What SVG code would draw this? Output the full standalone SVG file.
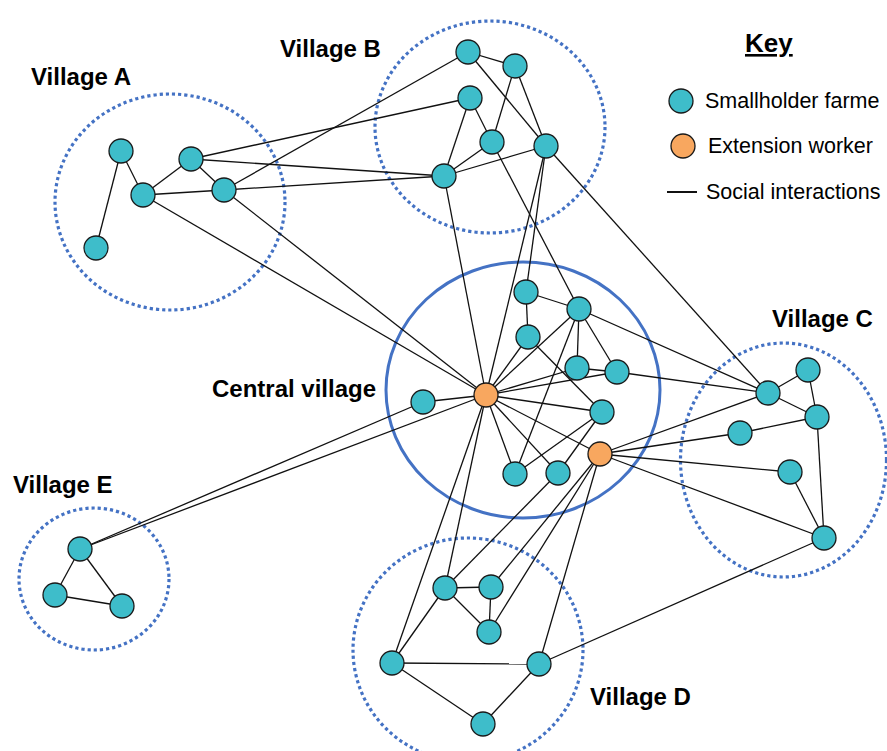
<svg xmlns="http://www.w3.org/2000/svg" width="887" height="751" viewBox="0 0 887 751">
<style>
.bg{fill:#fff}
.vil{fill:none;stroke:#4472C4;stroke-width:3.2;stroke-dasharray:3.2 3}
.cen{fill:none;stroke:#4472C4;stroke-width:3}
.e line{stroke:#111;stroke-width:1.3}
.f{fill:#3EBDCA;stroke:#1a1a1a;stroke-width:1.3}
.w{fill:#F8A75F;stroke:#1a1a1a;stroke-width:1.3}
.lbl{font-family:"Liberation Sans",Arial,sans-serif;font-weight:bold;font-size:24px;fill:#000}
.key{font-family:"Liberation Sans",Arial,sans-serif;font-size:21.5px;fill:#000}
</style>
<rect class="bg" x="0" y="0" width="887" height="751"/>
<g id="regions">
<ellipse class="vil" cx="170" cy="202" rx="115" ry="108"/>
<ellipse class="vil" cx="490" cy="127" rx="115" ry="106"/>
<ellipse class="cen" cx="523" cy="390" rx="137" ry="128"/>
<ellipse class="vil" cx="783.5" cy="460" rx="103" ry="117"/>
<ellipse class="vil" cx="468" cy="650" rx="115" ry="112"/>
<ellipse class="vil" cx="94" cy="579" rx="75" ry="71"/>
</g>
<g id="labels">
<text class="lbl" x="31" y="85">Village A</text>
<text class="lbl" x="280" y="57">Village B</text>
<text class="lbl" x="212" y="397">Central village</text>
<text class="lbl" x="772" y="327">Village C</text>
<text class="lbl" x="590" y="705">Village D</text>
<text class="lbl" x="13" y="493">Village E</text>
</g>
<g id="connectors" class="e">
<line x1="121" y1="151" x2="143" y2="195"/>
<line x1="121" y1="151" x2="96" y2="248"/>
<line x1="143" y1="195" x2="191" y2="159"/>
<line x1="191" y1="159" x2="224" y2="190"/>
<line x1="143" y1="195" x2="224" y2="190"/>
<line x1="191" y1="159" x2="470" y2="98"/>
<line x1="191" y1="159" x2="444" y2="176"/>
<line x1="224" y1="190" x2="468" y2="52"/>
<line x1="224" y1="190" x2="444" y2="176"/>
<line x1="224" y1="190" x2="486" y2="395"/>
<line x1="143" y1="195" x2="486" y2="395"/>
<line x1="468" y1="52" x2="515" y2="66"/>
<line x1="468" y1="52" x2="546" y2="146"/>
<line x1="515" y1="66" x2="492" y2="142"/>
<line x1="515" y1="66" x2="546" y2="146"/>
<line x1="470" y1="98" x2="492" y2="142"/>
<line x1="470" y1="98" x2="444" y2="176"/>
<line x1="492" y1="142" x2="444" y2="176"/>
<line x1="546" y1="146" x2="444" y2="176"/>
<line x1="444" y1="176" x2="486" y2="395"/>
<line x1="546" y1="146" x2="486" y2="395"/>
<line x1="546" y1="146" x2="526" y2="292"/>
<line x1="492" y1="142" x2="579" y2="309"/>
<line x1="546" y1="146" x2="768" y2="393"/>
<line x1="526" y1="292" x2="579" y2="309"/>
<line x1="526" y1="292" x2="528" y2="337"/>
<line x1="579" y1="309" x2="577" y2="368"/>
<line x1="579" y1="309" x2="617" y2="372"/>
<line x1="579" y1="309" x2="486" y2="395"/>
<line x1="579" y1="309" x2="515" y2="474"/>
<line x1="579" y1="309" x2="768" y2="393"/>
<line x1="528" y1="337" x2="602" y2="412"/>
<line x1="528" y1="337" x2="486" y2="395"/>
<line x1="577" y1="368" x2="617" y2="372"/>
<line x1="577" y1="368" x2="486" y2="395"/>
<line x1="617" y1="372" x2="486" y2="395"/>
<line x1="602" y1="412" x2="486" y2="395"/>
<line x1="515" y1="474" x2="486" y2="395"/>
<line x1="558" y1="473" x2="486" y2="395"/>
<line x1="600" y1="454" x2="486" y2="395"/>
<line x1="423" y1="402" x2="486" y2="395"/>
<line x1="423" y1="402" x2="80" y2="549"/>
<line x1="486" y1="395" x2="80" y2="549"/>
<line x1="486" y1="395" x2="392" y2="663"/>
<line x1="486" y1="395" x2="445" y2="588"/>
<line x1="602" y1="412" x2="515" y2="474"/>
<line x1="602" y1="412" x2="558" y2="473"/>
<line x1="617" y1="372" x2="768" y2="393"/>
<line x1="600" y1="454" x2="768" y2="393"/>
<line x1="600" y1="454" x2="740" y2="433"/>
<line x1="600" y1="454" x2="790" y2="472"/>
<line x1="600" y1="454" x2="824" y2="538"/>
<line x1="558" y1="473" x2="445" y2="588"/>
<line x1="600" y1="454" x2="491" y2="587"/>
<line x1="600" y1="454" x2="489" y2="632"/>
<line x1="600" y1="454" x2="539" y2="664"/>
<line x1="808" y1="370" x2="768" y2="393"/>
<line x1="768" y1="393" x2="817" y2="417"/>
<line x1="808" y1="370" x2="817" y2="417"/>
<line x1="817" y1="417" x2="740" y2="433"/>
<line x1="817" y1="417" x2="824" y2="538"/>
<line x1="790" y1="472" x2="824" y2="538"/>
<line x1="824" y1="538" x2="539" y2="664"/>
<line x1="445" y1="588" x2="491" y2="587"/>
<line x1="445" y1="588" x2="489" y2="632"/>
<line x1="491" y1="587" x2="489" y2="632"/>
<line x1="445" y1="588" x2="392" y2="663"/>
<line x1="392" y1="663" x2="539" y2="664"/>
<line x1="392" y1="663" x2="483" y2="724"/>
<line x1="539" y1="664" x2="483" y2="724"/>
<line x1="80" y1="549" x2="55" y2="595"/>
<line x1="80" y1="549" x2="122" y2="606"/>
<line x1="55" y1="595" x2="122" y2="606"/>
</g>
<g id="village-a">
<circle id="a1" class="f" cx="121" cy="151" r="12"/>
<circle id="a2" class="f" cx="191" cy="159" r="12"/>
<circle id="a3" class="f" cx="143" cy="195" r="12"/>
<circle id="a4" class="f" cx="224" cy="190" r="12"/>
<circle id="a5" class="f" cx="96" cy="248" r="12"/>
</g>
<g id="village-b">
<circle id="b1" class="f" cx="468" cy="52" r="12"/>
<circle id="b2" class="f" cx="515" cy="66" r="12"/>
<circle id="b3" class="f" cx="470" cy="98" r="12"/>
<circle id="b4" class="f" cx="492" cy="142" r="12"/>
<circle id="b5" class="f" cx="546" cy="146" r="12"/>
<circle id="b6" class="f" cx="444" cy="176" r="12"/>
</g>
<g id="central-village">
<circle id="c1" class="f" cx="526" cy="292" r="12"/>
<circle id="c2" class="f" cx="579" cy="309" r="12"/>
<circle id="c3" class="f" cx="528" cy="337" r="12"/>
<circle id="c4" class="f" cx="577" cy="368" r="12"/>
<circle id="c5" class="f" cx="617" cy="372" r="12"/>
<circle id="c6" class="f" cx="423" cy="402" r="12"/>
<circle id="c7" class="f" cx="602" cy="412" r="12"/>
<circle id="c8" class="f" cx="515" cy="474" r="12"/>
<circle id="c9" class="f" cx="558" cy="473" r="12"/>
<circle id="ext1" class="w" cx="486" cy="395" r="12"/>
<circle id="ext2" class="w" cx="600" cy="454" r="12"/>
</g>
<g id="village-c">
<circle id="vc1" class="f" cx="808" cy="370" r="12"/>
<circle id="vc2" class="f" cx="768" cy="393" r="12"/>
<circle id="vc3" class="f" cx="817" cy="417" r="12"/>
<circle id="vc4" class="f" cx="740" cy="433" r="12"/>
<circle id="vc5" class="f" cx="790" cy="472" r="12"/>
<circle id="vc6" class="f" cx="824" cy="538" r="12"/>
</g>
<g id="village-d">
<circle id="d1" class="f" cx="445" cy="588" r="12"/>
<circle id="d2" class="f" cx="491" cy="587" r="12"/>
<circle id="d3" class="f" cx="489" cy="632" r="12"/>
<circle id="d4" class="f" cx="392" cy="663" r="12"/>
<circle id="d5" class="f" cx="539" cy="664" r="12"/>
<circle id="d6" class="f" cx="483" cy="724" r="12"/>
</g>
<g id="village-e">
<circle id="e1" class="f" cx="80" cy="549" r="12"/>
<circle id="e2" class="f" cx="55" cy="595" r="12"/>
<circle id="e3" class="f" cx="122" cy="606" r="12"/>
</g>
<g id="key">
<text class="lbl" x="745" y="52" style="font-size:26px;text-decoration:underline">Key</text>
<circle class="f" cx="681" cy="101" r="12"/>
<text class="key" x="705" y="108">Smallholder farme</text>
<circle class="w" cx="683" cy="146" r="12"/>
<text class="key" x="708" y="153">Extension worker</text>
<line x1="667" y1="192" x2="697" y2="192" stroke="#111" stroke-width="2"/>
<text class="key" x="706" y="199">Social interactions</text>
</g>
</svg>
